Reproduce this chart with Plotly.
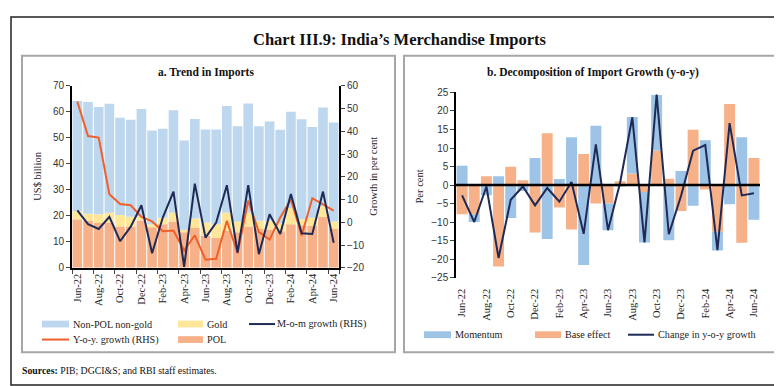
import plotly.graph_objects as go

W, H = 782, 386

months = ["Jun-22", "Jul-22", "Aug-22", "Sep-22", "Oct-22", "Nov-22", "Dec-22",
          "Jan-23", "Feb-23", "Mar-23", "Apr-23", "May-23", "Jun-23", "Jul-23",
          "Aug-23", "Sep-23", "Oct-23", "Nov-23", "Dec-23", "Jan-24", "Feb-24",
          "Mar-24", "Apr-24", "May-24", "Jun-24"]
tick_labels = months[::2]

# Panel a (US$ billion, growth in per cent)
pol = [18.7, 18.0, 17.2, 17.4, 15.9, 15.9, 18.2, 15.6, 16.8, 17.8, 13.7, 15.3, 12.3,
       11.6, 14.3, 13.7, 15.9, 14.9, 14.6, 14.1, 16.8, 16.4, 16.2, 19.6, 14.9]
gold = [3.1, 2.8, 3.4, 3.8, 4.4, 3.7, 1.6, 1.2, 2.5, 3.4, 0.9, 3.7, 5.1,
        5.2, 6.9, 4.1, 5.3, 3.2, 3.5, 3.0, 6.2, 2.3, 3.1, 4.1, 2.9]
non_pol_non_gold = [42.3, 42.9, 41.2, 41.9, 37.4, 37.3, 41.2, 36.0, 34.2, 39.4, 34.3, 38.2, 35.8,
                    36.4, 41.0, 36.6, 42.0, 36.3, 38.1, 36.0, 37.0, 38.4, 34.8, 37.9, 38.1]
yoy_growth = [53.0, 37.9, 37.2, 12.3, 8.0, 7.5, 2.4, 0.4, -3.9, -3.6, -12.4, -5.7, -16.4,
              -16.0, 0.7, -13.6, 9.5, -4.3, -7.6, 2.1, 10.0, -5.8, 10.6, 7.8, 5.1]
mom_growth = [5.2, -0.8, -2.9, 2.4, -8.3, -1.9, 7.5, -13.6, 2.1, 13.5, -19.6, 17.0, -6.7,
              -0.1, 16.3, -13.3, 16.3, -14.0, 3.5, -5.1, 12.4, -4.8, -5.1, 13.5, -9.0]

# Panel b (per cent)
base_effect = [-7.9, -7.9, 2.4, -22.0, 4.9, 1.3, -12.8, 14.0, -6.1, -12.0, 8.4, -5.0, -5.0,
               1.0, 3.1, -1.9, 9.3, 1.7, -7.0, 14.9, -1.2, -12.6, 21.9, -15.6, 7.3]
momentum = [5.2, -2.1, -2.8, 2.4, -8.9, -1.6, 7.3, -14.6, 1.6, 12.9, -21.6, 16.0, -7.2,
            -0.3, 15.3, -13.6, 15.0, -14.9, 3.8, -5.6, 12.1, -5.1, -5.2, 12.9, -9.4]
change_yoy = [-2.8, -10.0, -0.4, -19.7, -4.0, -0.4, -5.5, -0.8, -4.5, 0.8, -13.2, 11.0, -12.2,
              0.7, 18.3, -15.5, 24.4, -13.3, -3.0, 9.3, 10.8, -17.6, 16.7, -2.8, -2.2]

C_NONPOL = "#BDD7EE"
C_GOLD = "#FFE699"
C_POL = "#F6B189"
C_YOY = "#F0602A"
C_MOM = "#1F2A56"
C_MOMENTUM = "#9DC3E6"
C_BASE = "#F6B189"

SERIF = "Liberation Serif"
SANS = "Liberation Sans"


def px(x):
    return x / W


def py(y):
    return 1 - y / H


fig = go.Figure()

# ---- Panel a ----
fig.add_trace(go.Bar(x=months, y=pol, marker=dict(color=C_POL, line=dict(width=0)),
                     xaxis="x", yaxis="y", name="POL", showlegend=False))
fig.add_trace(go.Bar(x=months, y=gold, marker=dict(color=C_GOLD, line=dict(width=0)),
                     xaxis="x", yaxis="y", name="Gold", showlegend=False))
fig.add_trace(go.Bar(x=months, y=non_pol_non_gold, marker=dict(color=C_NONPOL, line=dict(width=0)),
                     xaxis="x", yaxis="y", name="Non-POL non-gold", showlegend=False))
fig.add_trace(go.Scatter(x=months, y=yoy_growth, mode="lines", line=dict(color=C_YOY, width=2),
                         xaxis="x", yaxis="y2", showlegend=False))
fig.add_trace(go.Scatter(x=months, y=mom_growth, mode="lines", line=dict(color=C_MOM, width=2),
                         xaxis="x", yaxis="y2", showlegend=False))

# ---- Panel b ----
fig.add_trace(go.Bar(x=months, y=base_effect, marker=dict(color=C_BASE, line=dict(width=0)),
                     xaxis="x3", yaxis="y3", name="Base effect", showlegend=False))
fig.add_trace(go.Bar(x=months, y=momentum, marker=dict(color=C_MOMENTUM, line=dict(width=0)),
                     xaxis="x3", yaxis="y3", name="Momentum", showlegend=False))
fig.add_trace(go.Scatter(x=months, y=change_yoy, mode="lines", line=dict(color=C_MOM, width=2),
                         xaxis="x3", yaxis="y3", showlegend=False))

tickfont_month = dict(family=SERIF, size=10.5, color="#222")
tickfont_num = dict(family=SANS, size=10, color="#333")

fig.update_layout(
    width=W, height=H, autosize=False,
    margin=dict(l=0, r=0, t=0, b=0),
    paper_bgcolor="white", plot_bgcolor="rgba(0,0,0,0)",
    barmode="relative", bargap=0.1,
    xaxis=dict(domain=[px(64), px(331)], anchor="y", type="category",
               tickmode="array", tickvals=tick_labels, ticktext=tick_labels,
               tickangle=-90, tickfont=tickfont_month, showline=True, linecolor="black",
               linewidth=1.5, ticks="outside", ticklen=4, tickson="boundaries",
               showgrid=False, range=[-0.5, 24.5]),
    yaxis=dict(domain=[py(262), py(74)], anchor="x", range=[0, 70], dtick=10,
               showline=True, linecolor="black", linewidth=2, ticks="outside", ticklen=4,
               tickfont=tickfont_num, showgrid=False, zeroline=False),
    yaxis2=dict(overlaying="y", anchor="x", side="right", range=[-20, 60], dtick=10,
                showline=True, linecolor="black", linewidth=2, ticks="outside", ticklen=4,
                tickfont=tickfont_num, showgrid=False, zeroline=False),
    xaxis3=dict(domain=[px(448), px(752)], anchor="y3", type="category",
                tickmode="array", tickvals=tick_labels, ticktext=tick_labels,
                tickangle=-90, tickfont=tickfont_month, showline=False,
                ticks="outside", ticklen=6, tickcolor="rgba(0,0,0,0)", showgrid=False,
                range=[-0.5, 24.5]),
    yaxis3=dict(domain=[py(272), py(81)], anchor="x3", range=[-25, 25], dtick=5,
                showline=True, linecolor="black", linewidth=1.5, ticks="outside", ticklen=4,
                tickfont=tickfont_num, showgrid=False, zeroline=False),
)

shapes = []
# outer border and panel frames
shapes.append(dict(type="rect", xref="paper", yref="paper", x0=px(3), x1=px(779), y0=py(383), y1=py(3),
                   line=dict(color="#222", width=1.5)))
shapes.append(dict(type="rect", xref="paper", yref="paper", x0=px(14), x1=px(387), y0=py(349), y1=py(43),
                   line=dict(color="#A6A6A6", width=2)))
shapes.append(dict(type="rect", xref="paper", yref="paper", x0=px(396), x1=px(773), y0=py(349), y1=py(43),
                   line=dict(color="#A6A6A6", width=2)))
# zero line of panel b
shapes.append(dict(type="line", xref="x3 domain", yref="y3", x0=0, x1=1, y0=0, y1=0,
                   line=dict(color="black", width=2.5), layer="above"))

annotations = []
annotations.append(dict(text="<b>Chart III.9: India’s Merchandise Imports</b>", x=0.5, y=py(26),
                        xref="paper", yref="paper", showarrow=False, xanchor="center", yanchor="middle",
                        font=dict(family=SERIF, size=16.5, color="#111")))
annotations.append(dict(text="<b>a. Trend in Imports</b>", x=px(198), y=py(60), xref="paper", yref="paper",
                        showarrow=False, xanchor="center", yanchor="middle",
                        font=dict(family=SERIF, size=11.5, color="#111")))
annotations.append(dict(text="<b>b. Decomposition of Import Growth (y-o-y)</b>", x=px(585), y=py(60),
                        xref="paper", yref="paper", showarrow=False, xanchor="center", yanchor="middle",
                        font=dict(family=SERIF, size=11.5, color="#111")))
annotations.append(dict(text="US$ billion", x=px(30), y=py(168), xref="paper", yref="paper", textangle=-90,
                        showarrow=False, xanchor="center", yanchor="middle",
                        font=dict(family=SERIF, size=10.5, color="#222")))
annotations.append(dict(text="Growth in per cent", x=px(366), y=py(168), xref="paper", yref="paper",
                        textangle=-90, showarrow=False, xanchor="center", yanchor="middle",
                        font=dict(family=SERIF, size=10.5, color="#222")))
annotations.append(dict(text="Per cent", x=px(411), y=py(178), xref="paper", yref="paper", textangle=-90,
                        showarrow=False, xanchor="center", yanchor="middle",
                        font=dict(family=SERIF, size=10.5, color="#222")))
annotations.append(dict(text="<b>Sources:</b> PIB; DGCI&S; and RBI staff estimates.", x=px(12), y=py(368),
                        xref="paper", yref="paper", showarrow=False, xanchor="left", yanchor="middle",
                        font=dict(family=SERIF, size=9.8, color="#111")))

legend_font = dict(family=SERIF, size=10.2, color="#222")


def legend_box(x0, x1, y, color, label, tx):
    shapes.append(dict(type="rect", xref="paper", yref="paper", x0=px(x0), x1=px(x1),
                       y0=py(y + 3.5), y1=py(y - 3.5), line=dict(width=0), fillcolor=color))
    annotations.append(dict(text=label, x=px(tx), y=py(y), xref="paper", yref="paper", showarrow=False,
                            xanchor="left", yanchor="middle", font=legend_font))


def legend_line(x0, x1, y, color, label, tx):
    shapes.append(dict(type="line", xref="paper", yref="paper", x0=px(x0), x1=px(x1),
                       y0=py(y), y1=py(y), line=dict(color=color, width=2)))
    annotations.append(dict(text=label, x=px(tx), y=py(y), xref="paper", yref="paper", showarrow=False,
                            xanchor="left", yanchor="middle", font=legend_font))


legend_box(34, 61, 320, C_NONPOL, "Non-POL non-gold", 63)
legend_box(170, 195, 320, C_GOLD, "Gold", 197)
legend_line(241, 267, 320, C_MOM, "M-o-m growth (RHS)", 267)
legend_line(34, 61, 336, C_YOY, "Y-o-y. growth (RHS)", 63)
legend_box(170, 195, 336, C_POL, "POL", 197)

legend_box(416, 443, 331, C_MOMENTUM, "Momentum", 445)
legend_box(527, 553, 331, C_BASE, "Base effect", 555)
legend_line(620, 646, 331, C_MOM, "Change in y-o-y growth", 648)

fig.update_layout(shapes=shapes, annotations=annotations)

fig.write_html("out.html")
